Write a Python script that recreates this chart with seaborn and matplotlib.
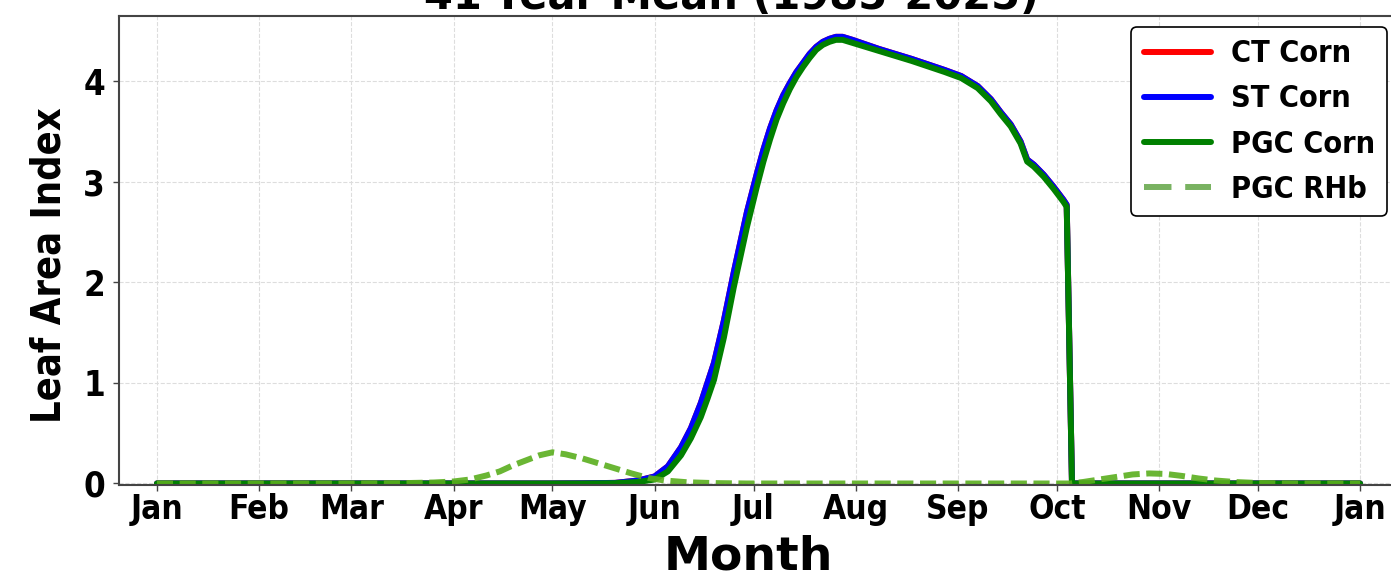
import matplotlib
matplotlib.use('Agg')
import matplotlib.pyplot as plt
import seaborn as sns

# day of year (1 = Jan 1) for the corn curves
corn_doy = [1, 120, 130, 140, 147, 152, 156, 160, 163, 166, 168, 170, 173, 176, 180, 183, 185,
            187, 189, 191, 193, 195, 197, 199, 201, 203, 205, 207, 209, 212, 220, 230, 240,
            245, 250, 254, 257, 260, 263, 265, 267, 270, 273, 276, 277, 278.6, 366]

ct_corn = [0, 0, 0.002, 0.006, 0.03, 0.07, 0.17, 0.36, 0.55, 0.8, 1.0, 1.2, 1.62, 2.1, 2.7, 3.08, 3.32,
           3.53, 3.71, 3.86, 3.98, 4.09, 4.18, 4.27, 4.34, 4.39, 4.42, 4.44, 4.44, 4.41, 4.32, 4.22, 4.11,
           4.05, 3.95, 3.82, 3.69, 3.57, 3.40, 3.22, 3.17, 3.07, 2.95, 2.82, 2.77, 0, 0]

st_corn = [0, 0, 0.002, 0.006, 0.03, 0.07, 0.17, 0.36, 0.55, 0.8, 1.0, 1.2, 1.62, 2.1, 2.7, 3.08, 3.32,
           3.53, 3.71, 3.86, 3.98, 4.09, 4.18, 4.27, 4.34, 4.39, 4.42, 4.44, 4.44, 4.41, 4.32, 4.22, 4.11,
           4.05, 3.95, 3.82, 3.69, 3.57, 3.40, 3.22, 3.17, 3.07, 2.95, 2.82, 2.77, 0, 0]

pgc_corn = [0, 0, 0, 0.003, 0.015, 0.04, 0.12, 0.28, 0.45, 0.66, 0.84, 1.03, 1.45, 1.95, 2.55, 2.95, 3.2,
            3.42, 3.62, 3.78, 3.92, 4.04, 4.14, 4.23, 4.31, 4.36, 4.39, 4.41, 4.41, 4.38, 4.3, 4.2, 4.09,
            4.03, 3.93, 3.8, 3.67, 3.55, 3.38, 3.2, 3.15, 3.05, 2.93, 2.8, 2.75, 0, 0]

rhb_doy = [1, 60, 75, 85, 91, 96, 101, 105, 109, 113, 117, 121, 125, 130, 135, 139, 145, 150,
           155, 162, 170, 180, 278, 282, 287, 292, 297, 302, 307, 312, 317, 322, 328, 335, 345, 366]
pgc_rhb = [0, 0, 0.003, 0.01, 0.02, 0.04, 0.08, 0.12, 0.18, 0.23, 0.28, 0.31, 0.29, 0.25, 0.2, 0.16,
           0.1, 0.055, 0.03, 0.012, 0.004, 0, 0, 0.015, 0.04, 0.065, 0.09, 0.1, 0.095, 0.075, 0.05,
           0.03, 0.015, 0.005, 0, 0]

month_doy = [1, 32, 60, 91, 121, 152, 182, 213, 244, 274, 305, 335, 366]
month_labels = ['Jan', 'Feb', 'Mar', 'Apr', 'May', 'Jun', 'Jul', 'Aug', 'Sep', 'Oct', 'Nov', 'Dec', 'Jan']

sns.set_style('white')
plt.rcParams['font.family'] = ['DejaVu Sans']
plt.rcParams['font.weight'] = 'bold'
plt.rcParams['font.stretch'] = 'condensed'
plt.rcParams['text.color'] = 'black'
plt.rcParams['axes.labelcolor'] = 'black'

fig = plt.figure(figsize=(13.91, 5.78), dpi=100)
ax = fig.add_axes([119 / 1391, 1 - 485 / 578, (1398 - 119) / 1391, (485 - 16) / 578])

sns.lineplot(x=corn_doy, y=ct_corn, ax=ax, color='red', lw=4.3, label='CT Corn')
sns.lineplot(x=corn_doy, y=st_corn, ax=ax, color='blue', lw=4.3, label='ST Corn')
sns.lineplot(x=corn_doy, y=pgc_corn, ax=ax, color='green', lw=4.3, label='PGC Corn')
sns.lineplot(x=rhb_doy, y=pgc_rhb, ax=ax, color='#5aae1e', lw=4.3, alpha=0.9,
             linestyle=(0, (2.7, 1.1)), label='PGC RHb')

ax.set_xlim(-10.5, 377.5)
ax.set_ylim(-0.015, 4.647)
ax.set_xticks(month_doy)
ax.set_xticklabels(month_labels)
ax.set_yticks([0, 1, 2, 3, 4])

ax.tick_params(axis='x', labelsize=24, length=4, width=1, color='#444444', labelcolor='black', pad=2)
ax.tick_params(axis='y', labelsize=25, length=4, width=1, color='#444444', labelcolor='black', pad=6)
ax.tick_params(bottom=True, left=True)
for s in ax.spines.values():
    s.set_color('#444444')
    s.set_linewidth(1.5)

ax.grid(True, color='#dddddd', linestyle='--', linewidth=0.8)

ax.set_xlabel('Month', fontsize=34, fontweight='bold', fontstretch='normal', labelpad=6)
ax.xaxis.label.set_x(0.492)
ax.set_ylabel('Leaf Area Index', fontsize=28.5, fontweight='bold')
ax.yaxis.set_label_coords(-0.039, 0.469)
ax.set_title('41-Year Mean (1985-2025)', fontsize=30, fontweight='bold',
             fontstretch='normal', pad=5, x=0.479)

leg = ax.legend(loc='upper right', fontsize=22, frameon=True, framealpha=1,
                edgecolor='black', labelspacing=0.53, handlelength=2.2,
                handletextpad=0.65, borderaxespad=0.36)
leg.get_frame().set_linewidth(1.2)
rhb_handle = leg.get_lines()[3]
rhb_handle.set_color('#6aaa50')
rhb_handle.set_linestyle((0, (4.6, 2.3)))

fig.savefig('out.png', dpi=100)
